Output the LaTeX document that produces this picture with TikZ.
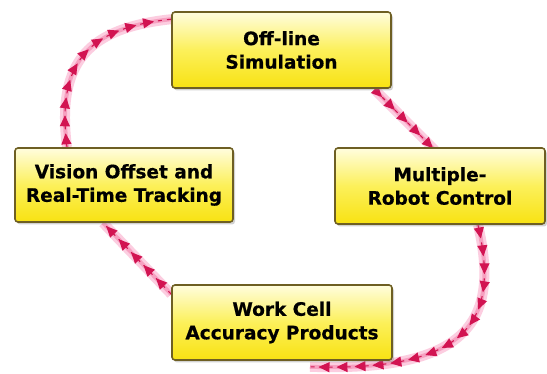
\documentclass[tikz,border=0pt]{standalone}
\usepackage{fontspec}
\newfontfamily\boxfont{DejaVu Sans}[BoldFeatures={FakeBold=0.6}]
\usetikzlibrary{arrows.meta,decorations.markings,shadows,backgrounds}
\definecolor{yelbot}{RGB}{248,226,18}
\definecolor{yelmid}{RGB}{252,240,90}
\definecolor{yeltop}{RGB}{255,253,222}
\definecolor{boxedge}{RGB}{110,95,35}
\definecolor{crim}{RGB}{210,20,82}
\definecolor{band}{RGB}{252,205,224}
\definecolor{bandin}{RGB}{246,160,192}
\begin{document}
\begin{tikzpicture}[x=1pt,y=-1pt,
  box/.style={rectangle, rounded corners=3pt, draw=boxedge, line width=1.6pt,
    top color=yeltop, bottom color=yelbot, middle color=yelmid,
    drop shadow={shadow xshift=2pt,shadow yshift=-2.5pt,opacity=0.35},
    align=center, inner sep=0pt, text=black,
    font=\boxfont\bfseries\fontsize{18.5}{23.5}\selectfont},
  flow/.style={draw=crim, line width=1.1pt, dash pattern=on 4pt off 5pt,
    preaction={draw=band, line width=10pt},
    preaction={draw=bandin, line width=4pt},
    postaction={decorate, decoration={markings,
      mark=between positions #1 and 1 step 18pt with {\arrow[color=crim]{Triangle[length=11pt,width=10pt]}}}}},
  flow/.default=14pt
]
\useasboundingbox (0,0) rectangle (547,374);

\node[box, minimum width=219pt, minimum height=76pt] (A) at (281.5,50) {Off-line\\Simulation};
\node[box, minimum width=210pt, minimum height=76pt] (B) at (440,186) {Multiple-\\Robot Control};
\node[box, minimum width=218pt, minimum height=74pt] (C) at (124,185) {Vision Offset and\\Real-Time Tracking};
\node[box, minimum width=220pt, minimum height=75pt] (D) at (282,322.5) {Work Cell\\Accuracy Products};

\begin{scope}[on background layer]
\fill[white] (0,0) rectangle (547,374);
\draw[flow=9pt] ([xshift=-16pt,yshift=-2pt]A.south east) -- ([xshift=-5pt,yshift=-3pt]B.north);
\draw[flow] ([xshift=38pt]B.south) .. controls (500,320) and (470,372) .. ([xshift=28pt,yshift=-6pt]D.south);
\draw[flow=22pt] ([yshift=-10pt]D.north west) -- ([xshift=-21pt]C.south);
\draw[flow] ([xshift=-57pt]C.north) .. controls (56,60) and (90,28) .. ([yshift=-8pt]A.north west);
\end{scope}
\end{tikzpicture}
\end{document}
